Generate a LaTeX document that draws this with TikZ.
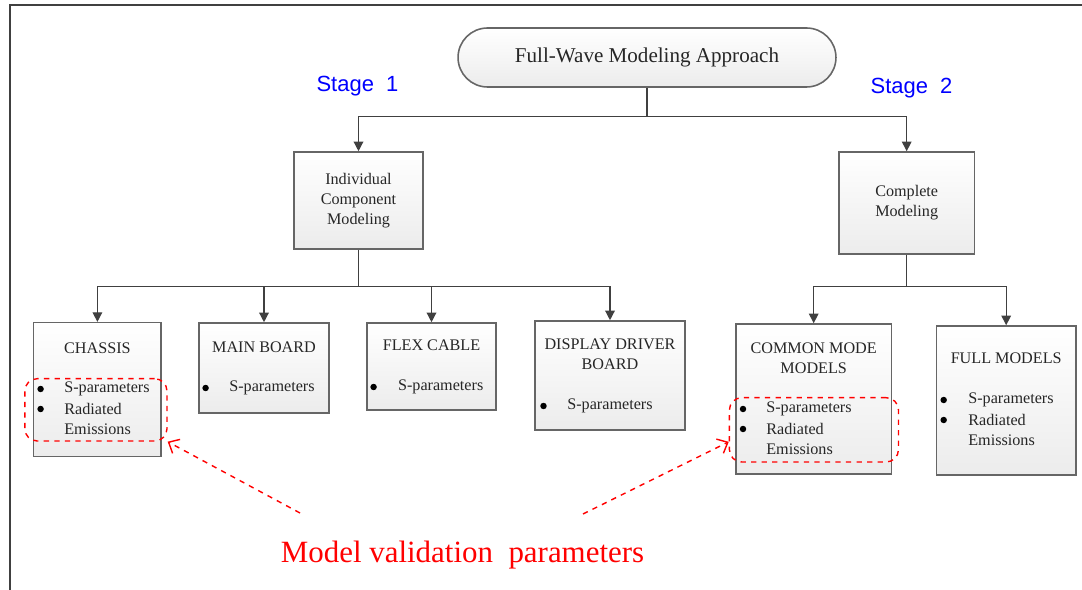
\documentclass[tikz,border=0pt]{standalone}
\usepackage{fontspec}
\setmainfont{Liberation Serif}
\newfontfamily\stagefont{Liberation Sans}
\usetikzlibrary{arrows.meta,positioning,shapes.misc}

\begin{document}
\begin{tikzpicture}[
        x=0.02cm,
        y=-0.02cm,
        link/.style={line width=0.75pt, draw=black!75},
        tip/.style={-{Triangle[length=5.5pt,width=5.5pt]}},
        box/.style={draw=black!60, line width=0.9pt, top color=white, bottom color=gray!15, inner sep=0pt},
        title/.style={font=\fontsize{9.2}{11.4}\selectfont, text=black!85, align=center},
        item/.style={font=\fontsize{9.2}{11}\selectfont, text=black!85, anchor=west, inner sep=0pt},
        bul/.style={circle, fill=black, inner sep=1.3pt},
        valbox/.style={draw=red, dashed, line width=0.8pt, rounded corners=7pt, inner sep=0pt},
        valarrow/.style={draw=red, dashed, line width=0.8pt, -{Straight Barb[length=5pt,width=9pt]}},
        stage/.style={font=\stagefont\fontsize{12.5}{14}\selectfont, text=blue}
    ]
        \useasboundingbox (0,0) rectangle (1082,590);
        % frame
        \draw[line width=1.4pt, black!75] (10,590) -- (10,5) -- (1082,5);

        % top level
        \node[box, rounded rectangle, minimum width=7.56cm, minimum height=1.18cm,
              font=\fontsize{12}{14}\selectfont, text=black!85] (approach) at (647,57.5) {Full-Wave Modeling Approach};
        \node[stage] (stage1) at (357.5,86) {Stage~~1};
        \node[stage] (stage2) at (911.5,88) {Stage~~2};

        \node[box, minimum width=2.58cm, minimum height=1.94cm, title] (icm) at (358.5,200.5) {Individual\\Component\\Modeling};
        \node[box, minimum width=2.71cm, minimum height=2.04cm, title] (cm) at (906.7,203) {Complete\\Modeling};

        \draw[link] (approach.south) -- ++(0,29) coordinate (split);
        \draw[link,tip] (split) -| (icm.north);
        \draw[link,tip] (split) -| (cm.north);

        % component boxes
        \node[box, minimum width=2.55cm, minimum height=2.68cm] (chassis) at (97.4,389.7) {};
        \node[box, minimum width=2.6cm, minimum height=1.8cm] (mainboard) at (264,368) {};
        \node[box, minimum width=2.58cm, minimum height=1.74cm] (flex) at (431.5,366.5) {};
        \node[box, minimum width=3cm, minimum height=2.18cm] (display) at (610,375.5) {};
        \node[box, minimum width=3.11cm, minimum height=3cm] (common) at (813.7,399) {};
        \node[box, minimum width=2.79cm, minimum height=2.98cm] (full) at (1006.2,400.5) {};

        \draw[link] (icm.south) -- ++(0,37) coordinate (fork1);
        \foreach \b in {chassis,mainboard,flex,display}
            \draw[link,tip] (fork1) -| (\b.north);
        \draw[link] (cm.south) -- ++(0,32) coordinate (fork2);
        \foreach \b in {common,full}
            \draw[link,tip] (fork2) -| (\b.north);

        % titles
        \node[title] (chassistitle) at (97.4,348) {CHASSIS};
        \node[title] (maintitle) at (264,347) {MAIN BOARD};
        \node[title] (flextitle) at (431.5,345) {FLEX CABLE};
        \node[title] (displaytitle) at (610,354) {DISPLAY DRIVER\\BOARD};
        \node[title] (commontitle) at (813.7,358) {COMMON MODE\\MODELS};
        \node[title] (fulltitle) at (1006.2,358) {FULL MODELS};

        % bullet lists
        \foreach \bx/\tx/\y/\lab in {40.6/64/389/S-parameters, 40.6/64/409/Radiated,
                                     205.6/229/388/S-parameters, 373.6/397.7/387/S-parameters,
                                     543.5/567/406/S-parameters,
                                     743/766/409/S-parameters, 743/766/429/Radiated,
                                     943.7/968/400/S-parameters, 943.7/968/420/Radiated}{
            \node[bul] at (\bx,\y) {};
            \node[item] at (\tx,\y) {\lab};
        }
        \foreach \tx/\y in {64/429, 766/449, 968/440}
            \node[item] at (\tx,\y) {Emissions};

        % validation marks
        \node[valbox, minimum width=2.844cm, minimum height=1.246cm] (chval) at (95.9,409.85) {};
        \node[valbox, minimum width=3.382cm, minimum height=1.286cm] (cmval) at (813.95,429.85) {};
        \node[text=red, font=\fontsize{17.6}{20}\selectfont] (validation) at (462.5,555) {Model validation~~parameters};
        \coordinate (from1) at (300,513);
        \coordinate (from2) at (583,514);
        \draw[valarrow] (from1) -- (chval.south east);
        \draw[valarrow] (from2) -- (cmval.188);
    \end{tikzpicture}
\end{document}
